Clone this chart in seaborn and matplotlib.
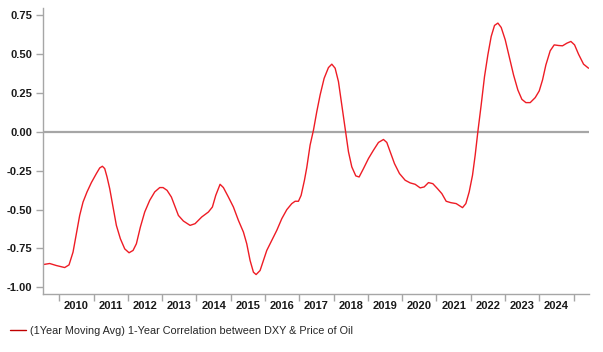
import matplotlib
matplotlib.use("Agg")
import matplotlib.pyplot as plt
from matplotlib.lines import Line2D
import seaborn as sns
import pandas as pd

# Decimal years (time) and correlation values
years = [2009.524, 2009.719, 2009.913, 2010.157, 2010.283, 2010.400, 2010.497, 2010.594,
         2010.692, 2010.808, 2010.935, 2011.081, 2011.178, 2011.256, 2011.324, 2011.392,
         2011.470, 2011.567, 2011.664, 2011.781, 2011.908, 2012.034, 2012.151, 2012.248,
         2012.364, 2012.491, 2012.637, 2012.783, 2012.929, 2013.026, 2013.143, 2013.269,
         2013.384, 2013.473, 2013.619, 2013.814, 2013.960, 2014.154, 2014.349, 2014.465,
         2014.563, 2014.689, 2014.786, 2014.932, 2015.078, 2015.224, 2015.370, 2015.467,
         2015.565, 2015.662, 2015.740, 2015.856, 2015.954, 2016.051, 2016.197, 2016.343,
         2016.489, 2016.635, 2016.781, 2016.878, 2016.975, 2017.053, 2017.150, 2017.218,
         2017.315, 2017.413, 2017.510, 2017.607, 2017.724, 2017.850, 2017.948, 2018.045,
         2018.142, 2018.240, 2018.337, 2018.434, 2018.531, 2018.648, 2018.745, 2018.872,
         2019.018, 2019.163, 2019.309, 2019.455, 2019.552, 2019.650, 2019.776, 2019.922,
         2020.088, 2020.234, 2020.379, 2020.525, 2020.642, 2020.768, 2020.895, 2021.031,
         2021.158, 2021.284, 2021.420, 2021.576, 2021.761, 2021.858, 2021.955, 2022.052,
         2022.130, 2022.208, 2022.305, 2022.402, 2022.500, 2022.597, 2022.694, 2022.792,
         2022.889, 2023.006, 2023.122, 2023.249, 2023.375, 2023.492, 2023.609, 2023.735,
         2023.881, 2023.998, 2024.095, 2024.192, 2024.318, 2024.435, 2024.562, 2024.678,
         2024.805, 2024.922, 2025.029, 2025.145, 2025.291, 2025.437]
corr = [-0.854, -0.847, -0.860, -0.873, -0.856, -0.774, -0.656, -0.538,
        -0.452, -0.387, -0.327, -0.269, -0.233, -0.222, -0.237, -0.291,
        -0.366, -0.484, -0.602, -0.688, -0.753, -0.778, -0.763, -0.720,
        -0.613, -0.516, -0.441, -0.387, -0.359, -0.359, -0.377, -0.420,
        -0.487, -0.538, -0.574, -0.602, -0.591, -0.548, -0.516, -0.484,
        -0.409, -0.338, -0.359, -0.420, -0.484, -0.570, -0.645, -0.720,
        -0.828, -0.903, -0.918, -0.892, -0.828, -0.763, -0.699, -0.634,
        -0.559, -0.501, -0.462, -0.447, -0.447, -0.409, -0.312, -0.230,
        -0.086, 0.010, 0.129, 0.236, 0.343, 0.412, 0.434, 0.408,
        0.322, 0.172, 0.021, -0.129, -0.226, -0.284, -0.291, -0.237,
        -0.172, -0.119, -0.069, -0.050, -0.069, -0.129, -0.205, -0.269,
        -0.312, -0.329, -0.338, -0.361, -0.355, -0.327, -0.334, -0.366,
        -0.398, -0.447, -0.456, -0.462, -0.488, -0.462, -0.387, -0.280,
        -0.151, 0.000, 0.172, 0.354, 0.494, 0.612, 0.683, 0.698,
        0.670, 0.591, 0.483, 0.365, 0.268, 0.208, 0.187, 0.187,
        0.219, 0.262, 0.333, 0.429, 0.520, 0.558, 0.554, 0.552,
        0.569, 0.580, 0.558, 0.498, 0.434, 0.408]
year_labels = [str(y) for y in range(2010, 2025)]
y_ticks = [0.75, 0.50, 0.25, 0.00, -0.25, -0.50, -0.75, -1.00]
series_name = "(1Year Moving Avg) 1-Year Correlation between DXY & Price of Oil"

sns.set_style("white")
plt.rcParams['font.family'] = ['Liberation Sans', 'DejaVu Sans']

df = pd.DataFrame({"year": years, "corr": corr})

fig = plt.figure(figsize=(6.03, 3.52), dpi=100)
ax = fig.add_axes([43 / 603, 1 - 294 / 352, (589 - 43) / 603, (294 - 8) / 352])

sns.lineplot(data=df, x="year", y="corr", ax=ax, color="#ee1c25", linewidth=1.0,
             legend=False)
ax.axhline(0, color="#a6a6a6", linewidth=1.6, zorder=1)

ax.set_xlim(2009.524, 2025.45)
ax.set_ylim(-1.043, 0.795)

grey = "#a6a6a6"
for s in ["top", "right"]:
    ax.spines[s].set_visible(False)
for s in ["left", "bottom"]:
    ax.spines[s].set_color(grey)
    ax.spines[s].set_linewidth(1.0)

ax.set_yticks(y_ticks)
ax.set_yticklabels([f"{v:.2f}" for v in y_ticks])
major_x = list(range(2010, 2026))
ax.set_xticks(major_x)
ax.set_xticklabels([])
ax.set_xticks([int(l) + 0.5 for l in year_labels], minor=True)
ax.set_xticklabels(year_labels, minor=True)
ax.tick_params(axis="x", which="major", direction="out", length=5, color=grey, width=1, bottom=True)
ax.tick_params(axis="x", which="minor", length=0, labelsize=8, pad=5, labelcolor="#1a1a1a", bottom=True)
ax.tick_params(axis="y", direction="out", length=5, color=grey, width=1, labelsize=8,
               labelcolor="#1a1a1a", pad=3, left=True)
for lab in ax.get_xticklabels(minor=True) + ax.get_yticklabels():
    lab.set_fontweight("bold")

ax.set_xlabel("")
ax.set_ylabel("")
ax.grid(False)

handle = Line2D([], [], color="#c00000", linewidth=1.0)
fig.legend([handle], [series_name], loc="center left", bbox_to_anchor=(10 / 603, 1 - 331 / 352),
           frameon=False, handlelength=1.5, handletextpad=0.35,
           borderpad=0, borderaxespad=0, prop={"size": 7.8})

fig.savefig("out.png", dpi=100)
